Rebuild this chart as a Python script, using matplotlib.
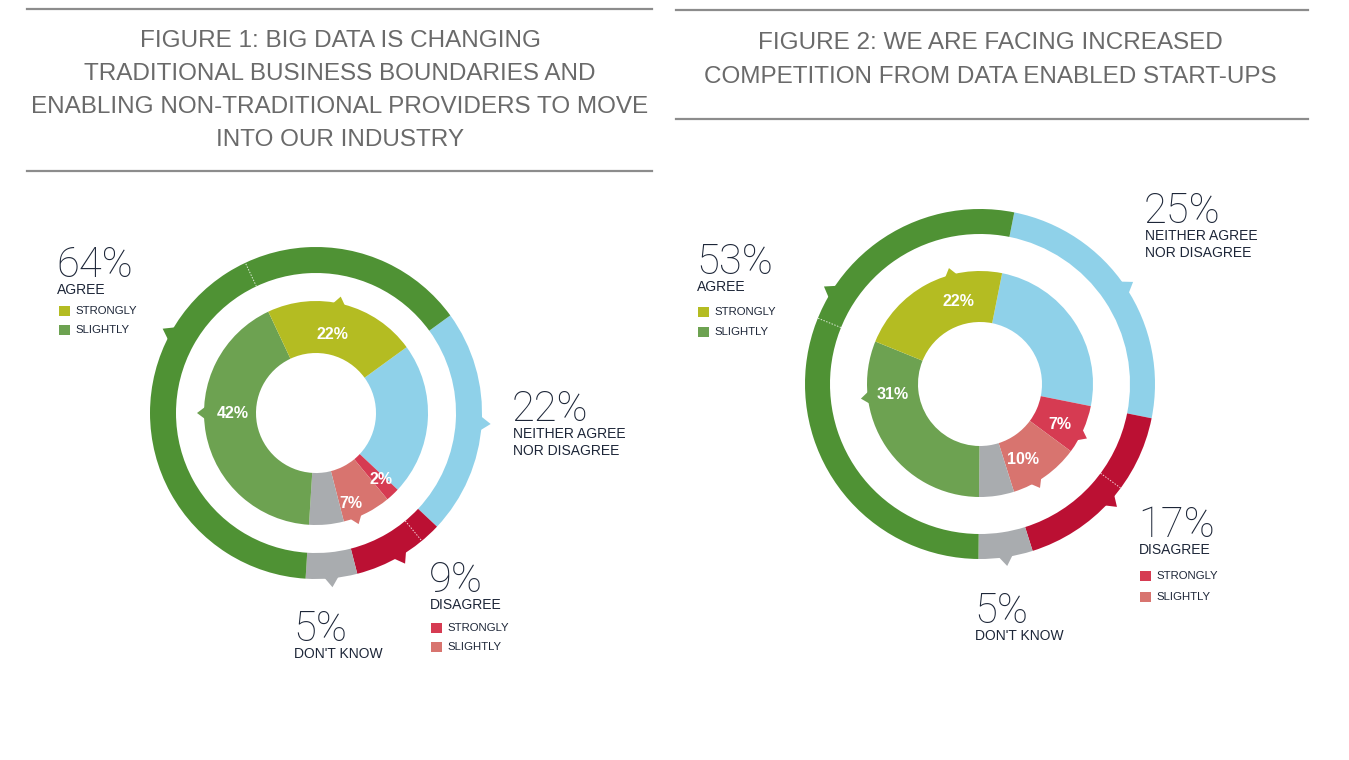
import matplotlib
matplotlib.use("Agg")
import matplotlib.pyplot as plt
from matplotlib.patches import Rectangle, Polygon
import numpy as np

# ---- data ----
fig1_title = ["FIGURE 1: BIG DATA IS CHANGING",
              "TRADITIONAL BUSINESS BOUNDARIES AND",
              "ENABLING NON-TRADITIONAL PROVIDERS TO MOVE",
              "INTO OUR INDUSTRY"]
fig2_title = ["FIGURE 2: WE ARE FACING INCREASED",
              "COMPETITION FROM DATA ENABLED START-UPS"]

# outer ring order (clockwise): neither, disagree, don't know, agree
fig1_outer = [22, 9, 5, 64]
fig2_outer = [25, 17, 5, 53]

# inner ring order (clockwise): neither, strongly dis, slightly dis, don't know, slightly agree, strongly agree
fig1_inner = [22, 2, 7, 5, 42, 22]
fig2_inner = [25, 7, 10, 5, 31, 22]

# ---- style ----
W, H = 1349, 760
C_AGREE = "#4f9234"
C_SL_AGREE = "#6da251"
C_ST_AGREE = "#b4bc22"
C_NEITHER = "#8fd1e9"
C_DISAGREE = "#bb1033"
C_ST_DIS = "#d63b52"
C_SL_DIS = "#d8746f"
C_DK = "#a9acaf"
TXT = "#1d2638"
TITLE_C = "#6a6a6a"

outer_colors = [C_NEITHER, C_DISAGREE, C_DK, C_AGREE]
inner_colors = [C_NEITHER, C_ST_DIS, C_SL_DIS, C_DK, C_SL_AGREE, C_ST_AGREE]

plt.rcParams['font.family'] = ['Liberation Sans', 'DejaVu Sans']
BIG_FONT = ['Roboto', 'Liberation Sans']

fig = plt.figure(figsize=(W / 100, H / 100), dpi=100)
ax = fig.add_axes([0, 0, 1, 1])


def Y(y):
    return H - y


def triangle(center, ang, r, size=7, length=9, color="k"):
    a = np.deg2rad(ang)
    ux, uy = np.cos(a), np.sin(a)
    px, py = -uy, ux
    bx, by = center[0] + (r - 1) * ux, center[1] + (r - 1) * uy
    pts = [(bx + size * px, by + size * py),
           (bx - size * px, by - size * py),
           (bx + length * ux, by + length * uy)]
    ax.add_patch(Polygon(pts, closed=True, color=color, lw=0))


def donut(center, start, outer, inner, r_out, w_out, r_in, w_in,
          inner_arrows, label_angles, label_r, outer_arrow_angles={}):
    ax.pie(outer, colors=outer_colors, radius=r_out, center=center,
           startangle=start, counterclock=False,
           wedgeprops=dict(width=w_out, linewidth=0))
    ax.pie(inner, colors=inner_colors, radius=r_in, center=center,
           startangle=start, counterclock=False,
           wedgeprops=dict(width=w_in, linewidth=0))

    # outer ring pointers (segment middle unless overridden)
    ob = start - 3.6 * np.concatenate([[0], np.cumsum(outer)])
    for i in range(len(outer)):
        ang = outer_arrow_angles.get(i, (ob[i] + ob[i + 1]) / 2)
        triangle(center, ang, r_out, size=7, length=10, color=outer_colors[i])

    # faint split lines on the outer ring (strongly / slightly)
    ib = start - 3.6 * np.concatenate([[0], np.cumsum(inner)])
    for k in (2, 5):
        a = np.deg2rad(ib[k])
        ax.plot([center[0] + (r_out - w_out) * np.cos(a), center[0] + r_out * np.cos(a)],
                [center[1] + (r_out - w_out) * np.sin(a), center[1] + r_out * np.sin(a)],
                color="white", lw=0.7, ls=(0, (1.5, 1.5)), alpha=0.8)

    # inner pointers + value labels
    for i in range(len(inner)):
        mid = (ib[i] + ib[i + 1]) / 2
        if i in inner_arrows:
            triangle(center, label_angles.get(i, mid), r_in, size=6, length=8,
                     color=inner_colors[i])
        if i in label_angles:
            a = np.deg2rad(label_angles[i])
            rr = label_r.get(i, 86)
            ax.text(center[0] + rr * np.cos(a), center[1] + rr * np.sin(a),
                    f"{inner[i]}%", color="white", fontsize=11.5, fontweight="bold",
                    ha="center", va="center")


def big_label(x, y, value, lines):
    ax.text(x, Y(y), f"{value}%", fontsize=30, color=TXT, ha="left",
            va="baseline", fontweight="light", family=BIG_FONT)
    for j, ln in enumerate(lines):
        ax.text(x + 1, Y(y + 13 + 17 * j), ln, fontsize=10, color=TXT,
                ha="left", va="center")


def legend_pair(x, y, colors, gap):
    for j, (c, t) in enumerate(zip(colors, ["STRONGLY", "SLIGHTLY"])):
        yy = y + gap * j
        ax.add_patch(Rectangle((x, Y(yy) - 5), 11, 10, color=c, lw=0))
        ax.text(x + 16, Y(yy), t, fontsize=8.2, color=TXT, ha="left", va="center")


# ---- figure 1 ----
for j, ln in enumerate(fig1_title):
    ax.text(340, Y(41 + 33 * j), ln, fontsize=17.5, color=TITLE_C,
            ha="center", va="center")
for yy in (9, 171):
    ax.plot([27, 652], [Y(yy), Y(yy)], color="#8c8c8c", lw=1.6)

donut((316, Y(413)), 36, fig1_outer, fig1_inner, 166, 26, 112, 52,
      inner_arrows={2, 4, 5},
      label_angles={5: 78, 4: 180, 1: -46, 2: -69},
      label_r={1: 93, 2: 97, 5: 80, 4: 83})

big_label(56, 277, fig1_outer[3], ["AGREE"])
legend_pair(59, 311, [C_ST_AGREE, C_SL_AGREE], 19)
big_label(512, 421, fig1_outer[0], ["NEITHER AGREE", "NOR DISAGREE"])
big_label(429, 592, fig1_outer[1], ["DISAGREE"])
legend_pair(431, 628, [C_ST_DIS, C_SL_DIS], 19)
big_label(293, 641, fig1_outer[2], ["DON'T KNOW"])

# ---- figure 2 ----
for j, ln in enumerate(fig2_title):
    ax.text(990, Y(43 + 34 * j), ln, fontsize=17.5, color=TITLE_C,
            ha="center", va="center")
for yy in (10, 119):
    ax.plot([676, 1308], [Y(yy), Y(yy)], color="#8c8c8c", lw=1.6)

donut((980, Y(384)), 78.7, fig2_outer, fig2_inner, 175, 25, 113, 51,
      inner_arrows={1, 2, 4, 5},
      label_angles={5: 105, 4: 187, 1: -27, 2: -60},
      label_r={5: 85, 4: 88, 1: 90, 2: 87},
      outer_arrow_angles={3: 148})

big_label(696, 274, fig2_outer[3], ["AGREE"])
legend_pair(698, 312, [C_ST_AGREE, C_SL_AGREE], 20)
big_label(1144, 223, fig2_outer[0], ["NEITHER AGREE", "NOR DISAGREE"])
big_label(1138, 537, fig2_outer[1], ["DISAGREE"])
legend_pair(1140, 576, [C_ST_DIS, C_SL_DIS], 21)
big_label(974, 623, fig2_outer[2], ["DON'T KNOW"])

ax.set_xlim(0, W)
ax.set_ylim(0, H)
ax.set_aspect("equal")
ax.axis("off")

fig.savefig("out.png", dpi=100, facecolor="white")
